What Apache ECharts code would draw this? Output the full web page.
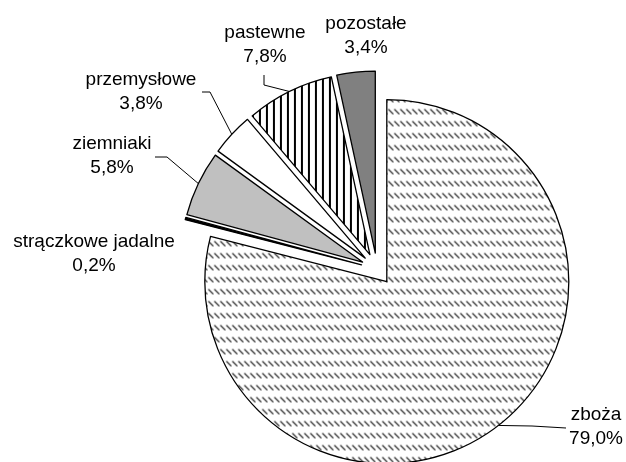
<!DOCTYPE html>
<html>
<head>
<meta charset="utf-8">
<script src="https://cdn.jsdelivr.net/npm/echarts@6/dist/echarts.min.js"></script>
<style>
html, body { margin: 0; padding: 0; background: #fff; }
#chart { width: 626px; height: 462px; }
</style>
</head>
<body>
<div id="chart"></div>
<script>
const categories = ['zboża', 'strączkowe jadalne', 'ziemniaki', 'przemysłowe', 'pastewne', 'pozostałe'];
const shares = [79.0, 0.2, 5.8, 3.8, 7.8, 3.4];

// where the label text sits (centre of block) and bend/end points of leader lines
const labelCenters = [[596, 427], [94, 254], [112, 156], [141, 92], [265, 45], [366, 36]];
const leaderBends = [
    [[532, 426], [566, 428]],
    null,
    [[167, 157], [155, 157]],
    [[210, 92], [202, 92]],
    [[264, 85], [264, 75]],
    null
];

const pieCenter = [377, 269];
const pieRadius = 182;
const explode = 16;

function makePattern(w, h, draw) {
    const c = document.createElement('canvas');
    c.width = w;
    c.height = h;
    const ctx = c.getContext('2d');
    ctx.fillStyle = '#fff';
    ctx.fillRect(0, 0, w, h);
    draw(ctx);
    return { image: c, repeat: 'repeat' };
}

const diagDash = makePattern(6, 12, ctx => {
    ctx.strokeStyle = '#333';
    ctx.lineWidth = 1.2;
    ctx.beginPath();
    ctx.moveTo(0.5, 0.5);
    ctx.lineTo(5.5, 5.5);
    ctx.stroke();
});
const vertLines = makePattern(7, 7, ctx => {
    ctx.fillStyle = '#000';
    ctx.fillRect(0, 0, 2, 7);
});

const fills = [diagDash, '#000000', '#c0c0c0', '#ffffff', vertLines, '#808080'];

const chart = echarts.init(document.getElementById('chart'));

const fmt = p => p.name + '\n' + p.value.toFixed(1).replace('.', ',') + '%';

const option = {
    animation: false,
    backgroundColor: '#fff',
    series: [
        {
            // exploded slices
            type: 'pie',
            center: pieCenter,
            radius: pieRadius,
            startAngle: 90,
            clockwise: true,
            selectedMode: 'multiple',
            selectedOffset: explode,
            silent: true,
            itemStyle: {
                borderColor: '#000',
                borderWidth: 1.3
            },
            label: { show: false },
            labelLine: { show: false },
            emphasis: { disabled: true },
            data: categories.map((name, i) => ({
                name: name,
                value: shares[i],
                selected: true,
                itemStyle: { color: fills[i] }
            }))
        },
        {
            // invisible twin that only carries the labels
            type: 'pie',
            center: pieCenter,
            radius: pieRadius,
            startAngle: 90,
            clockwise: true,
            silent: true,
            avoidLabelOverlap: false,
            itemStyle: { color: 'rgba(0,0,0,0)', borderWidth: 0 },
            label: {
                show: true,
                position: 'outside',
                fontFamily: 'Liberation Sans, Arial, sans-serif',
                fontSize: 19,
                lineHeight: 24,
                color: '#000',
                formatter: fmt
            },
            labelLine: {
                show: true,
                lineStyle: { color: '#000', width: 1, opacity: 1 }
            },
            labelLayout: function (params) {
                const i = params.dataIndex;
                const c = labelCenters[i];
                const out = { x: c[0], y: c[1], align: 'center', verticalAlign: 'middle' };
                const bends = leaderBends[i];
                if (bends && params.labelLinePoints) {
                    // push the anchor out to the edge of the exploded slice
                    const a = params.labelLinePoints[0];
                    const k = explode / pieRadius;
                    const anchor = [
                        a[0] + (a[0] - pieCenter[0]) * k,
                        a[1] + (a[1] - pieCenter[1]) * k
                    ];
                    out.labelLinePoints = [anchor, bends[0], bends[1]];
                }
                return out;
            },
            emphasis: { disabled: true },
            data: categories.map((name, i) => ({
                name: name,
                value: shares[i],
                labelLine: { show: leaderBends[i] != null }
            }))
        }
    ]
};

chart.setOption(option);
</script>
</body>
</html>
